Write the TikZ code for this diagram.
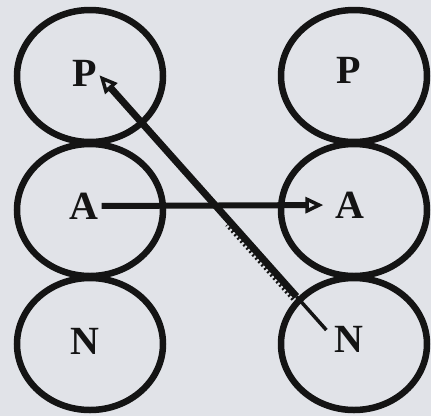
\documentclass[tikz,border=0pt]{standalone}
\usepackage{fontspec}
\setmainfont{Liberation Serif}
\usetikzlibrary{arrows.meta,calc,shapes.geometric}
\definecolor{paper}{HTML}{E1E3E8}
\definecolor{ink}{HTML}{141414}
\tikzset{
  ring/.style={draw=ink, line width=6.5pt, ellipse, minimum width=146pt, minimum height=132pt, inner sep=0pt},
  letter/.style={font=\bfseries\fontsize{40}{40}\selectfont, text=ink, inner sep=0pt},
  tipstyle/.style={-{Triangle[open, length=18pt, width=16pt, line width=3.5pt, fill=paper]}},
}
\begin{document}
\begin{tikzpicture}[x=1pt,y=-1pt]
  \fill[paper] (0,0) rectangle (431,416);
  \useasboundingbox (0,0) rectangle (431,416);
  % circles
  \node[ring] (cP1) at (90,76) {};
  \node[ring] (cA1) at (90,210) {};
  \node[ring] (cN1) at (90,344) {};
  \node[ring] (cP2) at (354,76) {};
  \node[ring] (cA2) at (354,210) {};
  \node[ring] (cN2) at (354,344) {};
  % letters
  \node[letter] (P1) at (85,73) {P};
  \node[letter] (A1) at (84,206) {A};
  \node[letter] (N1) at (85,341) {N};
  \node[letter] (P2) at (349,70) {P};
  \node[letter] (A2) at (350,205) {A};
  \node[letter] (N2) at (349,339) {N};
  % horizontal arrow
  \draw[draw=ink, line width=6pt, tipstyle, shorten <=3pt, shorten >=12pt] (A1.east) -- (A2.west);
  % diagonal arrow: thin tail inside N circle, thick shaft up to P
  \coordinate (dbend) at ($(N2.west)!0.16!(P1.east)$);
  \draw[ink, line width=3.5pt, shorten <=12pt] (N2.west) -- (dbend);
  \draw[draw=ink, line width=7pt, tipstyle, shorten >=3pt] (dbend) -- (P1.east);
  % hatched fringe of the diagonal
  \draw[ink, line width=3pt, dash pattern=on 2pt off 2.5pt]
    ($($(N2.west)!0.16!(P1.east)$)+(-3.6,3.2)$) -- ($($(N2.west)!0.44!(P1.east)$)+(-3.6,3.2)$);
\end{tikzpicture}
\end{document}
